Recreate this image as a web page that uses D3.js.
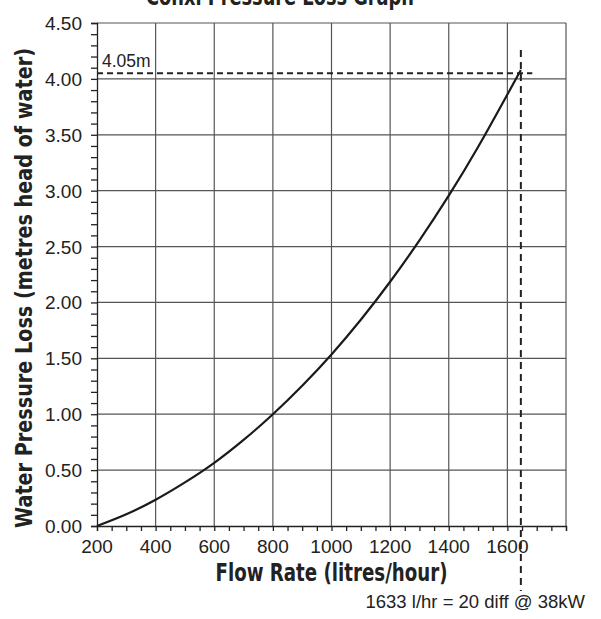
<!DOCTYPE html>
<html>
<head>
<meta charset="utf-8">
<script src="https://cdn.jsdelivr.net/npm/d3@7"></script>
<style>
  body { margin: 0; background: #fff; }
  svg { display: block; }
  .tick-label { font-family: "Liberation Sans", Arial, sans-serif; font-size: 19px; fill: #222; }
  .bold-title { font-family: "Liberation Sans Narrow", "DejaVu Sans Condensed", sans-serif; font-weight: bold; fill: #222; }
</style>
</head>
<body>
<div id="chart"></div>
<script>
// data
const flowRates = [200, 300, 400, 500, 600, 700, 800, 900, 1000, 1100, 1200, 1300, 1400, 1500, 1600, 1646];
const pressureLoss = [0, 0.105, 0.235, 0.39, 0.565, 0.77, 1.0, 1.255, 1.535, 1.845, 2.185, 2.555, 2.955, 3.39, 3.86, 4.08];
const xTicks = [200, 400, 600, 800, 1000, 1200, 1400, 1600];
const yTicks = [0, 0.5, 1, 1.5, 2, 2.5, 3, 3.5, 4, 4.5];
const markFlow = 1646;
const markLoss = 4.05;

/**
 * Draw the pressure loss graph
 */
function createChart() {
  const SVG_WIDTH = 601;
  const SVG_HEIGHT = 619;
  const margin = { top: 23, right: 35, bottom: 93, left: 97 };

  const svg = d3.select('#chart').append('svg')
    .attr('width', SVG_WIDTH)
    .attr('height', SVG_HEIGHT);

  const x = d3.scaleLinear()
    .domain([200, 1800])
    .range([margin.left, SVG_WIDTH - margin.right]);
  const y = d3.scaleLinear()
    .domain([0, 4.5])
    .range([SVG_HEIGHT - margin.bottom, margin.top]);

  // grid
  const grid = svg.append('g')
    .attr('stroke', '#555')
    .attr('stroke-width', 1.2);
  grid.selectAll('.vgrid')
    .data(xTicks.slice(1).concat([1800]))
    .join('line')
      .attr('x1', d => x(d)).attr('x2', d => x(d))
      .attr('y1', y(0)).attr('y2', y(4.5));
  grid.selectAll('.hgrid')
    .data(yTicks.slice(1))
    .join('line')
      .attr('x1', x(200)).attr('x2', x(1800))
      .attr('y1', d => y(d)).attr('y2', d => y(d));

  // axes
  const xAxis = svg.append('g')
    .attr('transform', 'translate(0,' + y(0) + ')')
    .call(d3.axisBottom(x).ticks(40).tickSize(5).tickFormat(''));
  xAxis.select('.domain').attr('stroke', '#222').attr('stroke-width', 1.3);
  xAxis.selectAll('.tick line').attr('stroke', '#222').attr('stroke-width', 1.3);

  const yAxis = svg.append('g')
    .attr('transform', 'translate(' + x(200) + ',0)')
    .call(d3.axisLeft(y).ticks(45).tickSize(6).tickFormat(''));
  yAxis.select('.domain').attr('stroke', '#222').attr('stroke-width', 1.3);
  yAxis.selectAll('.tick line').attr('stroke', '#222').attr('stroke-width', 1.3);

  svg.selectAll('.xlab')
    .data(xTicks)
    .join('text')
      .attr('class', 'tick-label')
      .attr('x', d => x(d))
      .attr('y', y(0) + 27)
      .attr('text-anchor', 'middle')
      .text(d => d);

  svg.selectAll('.ylab')
    .data(yTicks)
    .join('text')
      .attr('class', 'tick-label')
      .attr('x', x(200) - 15)
      .attr('y', d => y(d) + 7)
      .attr('text-anchor', 'end')
      .text(d => d.toFixed(2));

  // marker lines
  svg.append('line')
    .attr('x1', x(200)).attr('x2', x(1685))
    .attr('y1', y(markLoss)).attr('y2', y(markLoss))
    .attr('stroke', '#222').attr('stroke-width', 2)
    .attr('stroke-dasharray', '6,4');
  svg.append('line')
    .attr('x1', x(markFlow)).attr('x2', x(markFlow))
    .attr('y1', 50).attr('y2', 591)
    .attr('stroke', '#222').attr('stroke-width', 2)
    .attr('stroke-dasharray', '7,5');

  // curve
  const line = d3.line()
    .x((d, i) => x(flowRates[i]))
    .y(d => y(d))
    .curve(d3.curveNatural);
  svg.append('path')
    .datum(pressureLoss)
      .attr('fill', 'none')
      .attr('stroke', '#1a1a1a')
      .attr('stroke-width', 2.2)
      .attr('d', line);

  // text
  svg.append('text')
    .attr('class', 'tick-label')
    .attr('x', x(200) + 5)
    .attr('y', y(markLoss) - 6)
    .style('font-size', '17.5px')
    .text('4.05m');

  svg.append('text')
    .attr('class', 'tick-label')
    .attr('x', 585)
    .attr('y', 608)
    .attr('text-anchor', 'end')
    .style('font-size', '18.5px')
    .text('1633 l/hr = 20 diff @ 38kW');

  svg.append('text')
    .attr('class', 'bold-title')
    .attr('x', 280)
    .attr('y', 5)
    .attr('text-anchor', 'middle')
    .attr('textLength', 268)
    .attr('lengthAdjust', 'spacingAndGlyphs')
    .style('font-size', '24px')
    .text('Conxl Pressure Loss Graph');

  svg.append('text')
    .attr('class', 'bold-title')
    .attr('x', (x(200) + x(1800)) / 2)
    .attr('y', 581)
    .attr('text-anchor', 'middle')
    .attr('textLength', 232)
    .attr('lengthAdjust', 'spacingAndGlyphs')
    .style('font-size', '24px')
    .text('Flow Rate (litres/hour)');

  svg.append('text')
    .attr('class', 'bold-title')
    .attr('transform', 'translate(32,288) rotate(-90)')
    .attr('text-anchor', 'middle')
    .attr('textLength', 480)
    .attr('lengthAdjust', 'spacingAndGlyphs')
    .style('font-size', '23px')
    .text('Water Pressure Loss (metres head of water)');
}

(function main() {
  createChart();
})();
</script>
</body>
</html>
